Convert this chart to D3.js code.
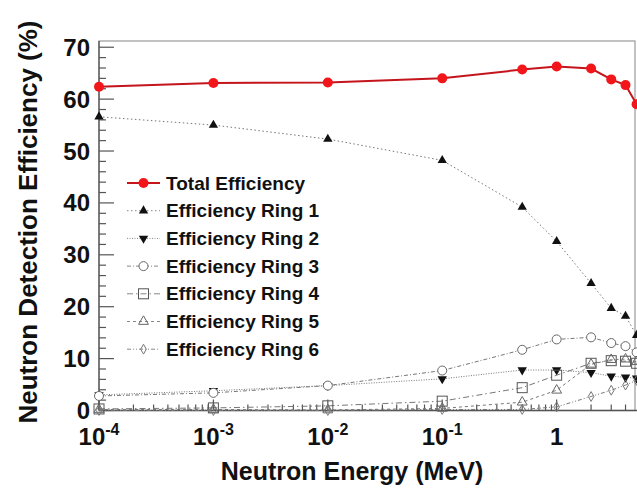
<!DOCTYPE html>
<html>
<head>
<meta charset="utf-8">
<script src="https://cdn.jsdelivr.net/npm/d3@7"></script>
<style>
  body { margin: 0; background: #fff; }
  text { font-family: "Liberation Sans", Arial, sans-serif; font-weight: bold; fill: #111; }
</style>
</head>
<body>
<div id="chart"></div>
<script>
// neutron energies (MeV)
var energies = [1e-4, 1e-3, 1e-2, 1e-1, 0.5, 1, 2, 3, 4, 5]

// efficiencies in %
var total = [62.4, 63.1, 63.2, 64.0, 65.7, 66.3, 65.9, 63.8, 62.7, 59.0]
var ring1 = [56.6, 55.0, 52.3, 48.2, 39.2, 32.6, 24.5, 19.7, 18.2, 14.5]
var ring2 = [3.0, 3.8, 4.8, 6.1, 7.8, 7.8, 7.3, 6.6, 6.4, 6.2]
var ring3 = [2.8, 3.4, 4.8, 7.7, 11.7, 13.7, 14.1, 13.0, 12.4, 11.2]
var ring4 = [0.3, 0.5, 0.9, 1.8, 4.4, 6.8, 9.1, 9.6, 9.5, 9.1]
var ring5 = [0.2, 0.2, 0.1, 0.4, 1.6, 3.9, 8.9, 9.8, 9.9, 9.4]
var ring6 = [0.0, 0.0, 0.0, 0.2, 0.2, 0.7, 2.7, 3.9, 4.9, 5.8]

var legendLabels = ["Total Efficiency", "Efficiency Ring 1", "Efficiency Ring 2",
    "Efficiency Ring 3", "Efficiency Ring 4", "Efficiency Ring 5", "Efficiency Ring 6"]

var yTicks = [0, 10, 20, 30, 40, 50, 60, 70]
var xTicks = [1e-4, 1e-3, 1e-2, 1e-1, 1]
var xTickLabels = [["10", "-4"], ["10", "-3"], ["10", "-2"], ["10", "-1"], ["1", ""]]

var width = 637
var height = 491
// plot area (don't name these top/left: window.top is read-only)
var pL = 99, pR = 635, pT = 41, pB = 410.5

var x = d3.scaleLog().domain([1e-4, 4.84]).range([pL, pR])
var y = d3.scaleLinear().domain([0, 71.2]).range([pB, pT])

// style of each series: marker kind, dash pattern
var series = [
    { values: total, marker: "dot", dash: null },
    { values: ring1, marker: "tri", dash: "1.5,2.5" },
    { values: ring2, marker: "tridown", dash: "1,1.5" },
    { values: ring3, marker: "circle", dash: "4,2,1,2" },
    { values: ring4, marker: "square", dash: "6,3,1.5,3" },
    { values: ring5, marker: "opentri", dash: "3,3" },
    { values: ring6, marker: "diamond", dash: "4,2,1,2,1,2" }
]

var svg = d3.select("#chart").append("svg")
    .attr("width", width)
    .attr("height", height)

// frame
svg.append("rect")
    .attr("x", pL).attr("y", pT)
    .attr("width", pR - pL).attr("height", pB - pT)
    .attr("fill", "none").attr("stroke", "#999").attr("stroke-width", 1.2)

svg.append("line")
    .attr("x1", pL).attr("x2", pL).attr("y1", pT).attr("y2", pB)
    .attr("stroke", "#555").attr("stroke-width", 1.3)
svg.append("line")
    .attr("x1", pL).attr("x2", width).attr("y1", pB).attr("y2", pB)
    .attr("stroke", "#555").attr("stroke-width", 1.3)

// y ticks, every 2 with majors at 10
var yMinor = d3.range(0, 71, 2)
svg.selectAll("yminor").data(yMinor).enter().append("line")
    .attr("x1", pL).attr("x2", d => pL + (d % 10 == 0 ? 15 : 7))
    .attr("y1", d => y(d)).attr("y2", d => y(d))
    .attr("stroke", "#555").attr("stroke-width", 1.2)

svg.selectAll("ylabels").data(yTicks).enter().append("text")
    .attr("x", 90).attr("y", d => y(d) + 8.5)
    .attr("text-anchor", "end")
    .style("font-size", "24px")
    .text(d => d)

// x ticks: decades and 2..9
var xMinor = []
for (var e = -4; e <= 0; e++) {
    for (var m = 1; m <= 9; m++) {
        var v = m * Math.pow(10, e)
        if (v <= 4.84) xMinor.push(v)
    }
}
svg.selectAll("xminor").data(xMinor).enter().append("line")
    .attr("x1", d => x(d)).attr("x2", d => x(d))
    .attr("y1", pB)
    .attr("y2", d => pB - (xTicks.indexOf(d) >= 0 ? 11 : 6))
    .attr("stroke", "#555").attr("stroke-width", 1.2)

var xl = svg.selectAll("xlabels").data(xTicks).enter().append("text")
    .attr("x", d => x(d))
    .attr("y", 445)
    .attr("text-anchor", "middle")
    .style("font-size", "24px")
xl.append("tspan").text((d, i) => xTickLabels[i][0])
xl.append("tspan")
    .attr("dy", -10)
    .style("font-size", "16px")
    .text((d, i) => xTickLabels[i][1])

// axis titles
svg.append("text")
    .attr("x", 352).attr("y", 480)
    .attr("text-anchor", "middle")
    .style("font-size", "25px")
    .text("Neutron Energy (MeV)")

svg.append("text")
    .attr("transform", "translate(37,222) rotate(-90)")
    .attr("text-anchor", "middle")
    .style("font-size", "26px")
    .text("Neutron Detection Efficiency (%)")

// marker drawing
function drawMarker(g, kind) {
    if (kind == "dot") {
        g.append("circle").attr("r", 5).attr("fill", "#f2161a")
    } else if (kind == "tri") {
        g.append("path").attr("d", d3.symbol(d3.symbolTriangle, 38)()).attr("fill", "#111")
    } else if (kind == "tridown") {
        g.append("path").attr("d", d3.symbol(d3.symbolTriangle, 38)())
            .attr("transform", "rotate(180)").attr("fill", "#111")
    } else if (kind == "circle") {
        g.append("circle").attr("r", 4.5).attr("fill", "#fff").attr("stroke", "#666").attr("stroke-width", 1)
    } else if (kind == "square") {
        g.append("rect").attr("x", -5).attr("y", -5).attr("width", 10).attr("height", 10)
            .attr("fill", "none").attr("stroke", "#555").attr("stroke-width", 1)
    } else if (kind == "opentri") {
        g.append("path").attr("d", d3.symbol(d3.symbolTriangle, 42)())
            .attr("fill", "none").attr("stroke", "#666").attr("stroke-width", 1)
    } else if (kind == "diamond") {
        g.append("path").attr("d", d3.symbol(d3.symbolDiamond, 28)())
            .attr("fill", "none").attr("stroke", "#777").attr("stroke-width", 1)
    }
}

var line = d3.line()
    .x((d, i) => x(energies[i]))
    .y(d => y(d))

// draw rings first, total on top
series.slice(1).concat([series[0]]).forEach(function (s) {
    var isTotal = s.marker == "dot"
    svg.append("path")
        .datum(s.values)
        .attr("d", line)
        .attr("fill", "none")
        .attr("stroke", isTotal ? "#c4141c" : "#777")
        .attr("stroke-width", isTotal ? 2 : 1)
        .attr("stroke-dasharray", s.dash)
    s.values.forEach(function (v, i) {
        var g = svg.append("g").attr("transform", "translate(" + x(energies[i]) + "," + y(v) + ")")
        drawMarker(g, s.marker)
    })
})

// legend
var legend = svg.selectAll("legend").data(series).enter().append("g")
    .attr("transform", (d, i) => "translate(0," + (183 + i * 27.7) + ")")
legend.append("line")
    .attr("x1", 127).attr("x2", 160).attr("y1", 0).attr("y2", 0)
    .attr("stroke", d => d.marker == "dot" ? "#c4141c" : "#888")
    .attr("stroke-width", d => d.marker == "dot" ? 2 : 1)
    .attr("stroke-dasharray", d => d.dash)
legend.each(function (d) {
    var g = d3.select(this).append("g").attr("transform", "translate(143.5,0)")
    drawMarker(g, d.marker)
})
legend.append("text")
    .attr("x", 166).attr("y", 6.5)
    .style("font-size", "19px")
    .text((d, i) => legendLabels[i])
</script>
</body>
</html>
